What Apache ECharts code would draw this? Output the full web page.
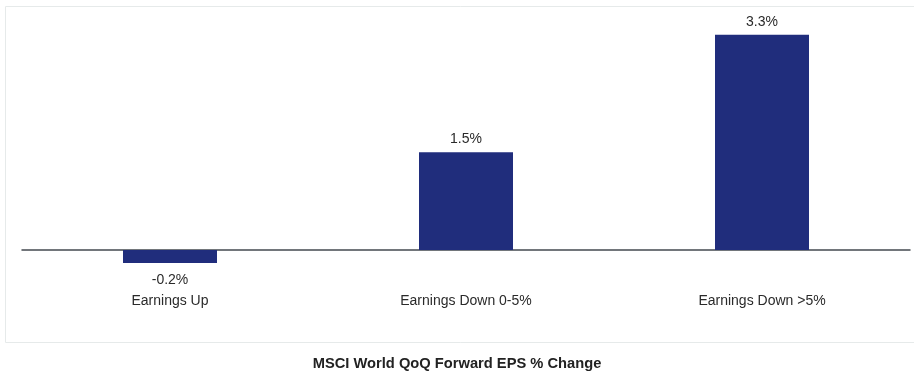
<!DOCTYPE html>
<html>
<head>
<meta charset="utf-8">
<style>
  html, body { margin: 0; padding: 0; background: #ffffff; }
  #chart { width: 914px; height: 372px; }
</style>
<script src="https://cdn.jsdelivr.net/npm/echarts@6/dist/echarts.min.js"></script>
</head>
<body>
<div id="chart"></div>
<script>
// Quarter-on-quarter change in forward EPS, grouped by earnings revision bucket
const categories = ['Earnings Up', 'Earnings Down 0-5%', 'Earnings Down >5%'];
const epsChange = [-0.2, 1.5, 3.3];
const chartTitle = 'MSCI World QoQ Forward EPS % Change';

const chart = echarts.init(document.getElementById('chart'), null, { renderer: 'canvas' });

const FONT = '"Liberation Sans", Arial, Helvetica, sans-serif';

// negative values get their label a little further from the bar end
const barData = epsChange.map(v => v < 0
  ? { value: v, label: { distance: 10 } }
  : { value: v });

chart.setOption({
  animation: false,
  backgroundColor: '#ffffff',
  title: {
    text: chartTitle,
    left: 'center',
    top: 351,
    textStyle: { fontFamily: FONT, fontSize: 14.7, fontWeight: 'bold', color: '#222222' }
  },
  graphic: [{
    type: 'rect',
    shape: { x: 5.5, y: 6.5, width: 920, height: 336 },
    style: { fill: 'none', stroke: '#e6eaea', lineWidth: 1 },
    silent: true,
    z: -1
  }],
  grid: { left: 22, right: 4, top: 21.8, height: 244.5, containLabel: false },
  xAxis: {
    type: 'category',
    data: categories,
    axisLine: { onZero: true, lineStyle: { color: '#444a50', width: 1.5 } },
    axisTick: { show: false },
    axisLabel: {
      margin: 28,
      fontFamily: FONT,
      fontSize: 14,
      color: '#2a2a2a'
    },
    splitLine: { show: false }
  },
  yAxis: {
    type: 'value',
    min: -0.25,
    max: 3.5,
    show: false,
    splitLine: { show: false }
  },
  series: [{
    type: 'bar',
    data: barData,
    barWidth: 94,
    itemStyle: { color: '#202d7c' },
    label: {
      show: true,
      position: 'outside',
      distance: 6,
      fontFamily: FONT,
      fontSize: 14,
      color: '#2a2a2a',
      formatter: p => p.value.toFixed(1) + '%'
    }
  }]
});
</script>
</body>
</html>
